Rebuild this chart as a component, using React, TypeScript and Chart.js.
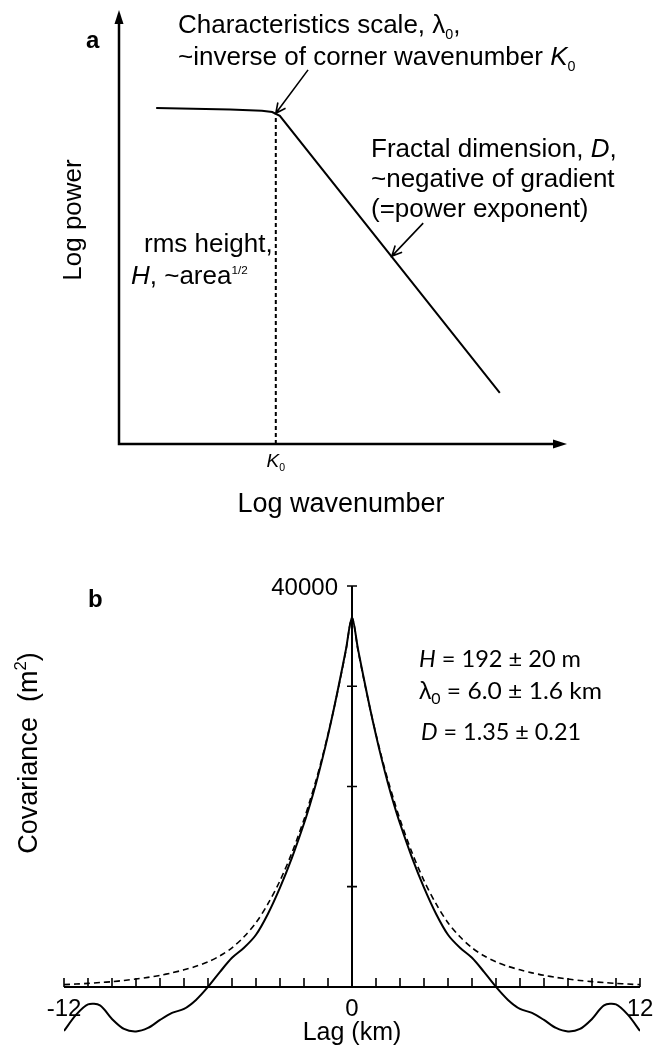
import React, { useEffect, useRef } from "react";
import { Chart, registerables } from "chart.js";

Chart.register(...registerables);

// ---------- Panel a: schematic power spectrum (arbitrary log units) ----------
const logWavenumber = [0.83, 2.48, 3.19, 3.42, 3.59, 8.5];
const logPower = [7.74, 7.71, 7.68, 7.65, 7.56, 1.18];
const cornerK0 = 3.5;
const cornerPower = 7.56;

// ---------- Panel b: covariance vs lag (positive lags; function is symmetric) ----------
const lagKm = [0, 0.25, 0.5, 0.75, 1, 1.25, 1.5, 1.75, 2, 2.5, 3, 3.5, 4, 4.5, 5, 5.5, 6, 6.5, 7, 7.5, 8, 8.5, 9, 9.5, 10, 10.5, 11, 11.5, 12];
const covObserved = [36864, 33700, 30700, 27800, 25100, 22600, 20300, 18200, 16300, 12900, 9900, 7300, 5200, 3900, 2900, 1500, 0, -1300, -2200, -2600, -3300, -4100, -4450, -4200, -3200, -1850, -1750, -2800, -4400];
const covModel = [36864, 33600, 30600, 27800, 25200, 22800, 20600, 18600, 16700, 13400, 10600, 8300, 6400, 5000, 3900, 3100, 2500, 2050, 1700, 1400, 1150, 950, 780, 640, 520, 430, 350, 280, 220];
const yTicks = [10000, 20000, 30000, 40000];
const xTickLabels = [-12, 0, 12];

type Seg = { t: string; it?: boolean; b?: boolean; sub?: boolean; sup?: boolean; sz?: number; fam?: string };

function drawRich(
  ctx: CanvasRenderingContext2D,
  segs: Seg[],
  x: number,
  y: number,
  size: number,
  family: string,
  align: "left" | "center" | "right" = "left",
  fitWidth?: number
) {
  const segSize = (s: Seg) => (s.sz ? size * s.sz : s.sub || s.sup ? size * 0.55 : size);
  const fontFor = (s: Seg) =>
    `${s.it ? "italic " : ""}${s.b ? "bold " : ""}${segSize(s).toFixed(1)}px ${s.fam || family}`;
  const widths: number[] = [];
  let total = 0;
  for (const s of segs) {
    ctx.font = fontFor(s);
    const w = ctx.measureText(s.t).width;
    widths.push(w);
    total += w;
  }
  const sx = fitWidth ? fitWidth / total : 1;
  const start = align === "center" ? x - (total * sx) / 2 : align === "right" ? x - total * sx : x;
  ctx.save();
  ctx.translate(start, y);
  ctx.scale(sx, 1);
  ctx.textAlign = "left";
  ctx.textBaseline = "alphabetic";
  ctx.fillStyle = "#000";
  let cx = 0;
  segs.forEach((s, i) => {
    ctx.font = fontFor(s);
    const dy = s.sub ? size * 0.22 : s.sup ? -size * 0.4 : 0;
    ctx.fillText(s.t, cx, dy);
    cx += widths[i];
  });
  ctx.restore();
}

function drawRotated(ctx: CanvasRenderingContext2D, segs: Seg[], x: number, y: number, size: number, family: string) {
  ctx.save();
  ctx.translate(x, y);
  ctx.rotate(-Math.PI / 2);
  drawRich(ctx, segs, 0, 0, size, family, "center");
  ctx.restore();
}

function openArrow(ctx: CanvasRenderingContext2D, x1: number, y1: number, x2: number, y2: number) {
  const ang = Math.atan2(y2 - y1, x2 - x1);
  const hl = 11;
  const spread = 0.45;
  ctx.save();
  ctx.strokeStyle = "#000";
  ctx.lineWidth = 1.6;
  ctx.beginPath();
  ctx.moveTo(x1, y1);
  ctx.lineTo(x2, y2);
  ctx.moveTo(x2 - hl * Math.cos(ang - spread), y2 - hl * Math.sin(ang - spread));
  ctx.lineTo(x2, y2);
  ctx.lineTo(x2 - hl * Math.cos(ang + spread), y2 - hl * Math.sin(ang + spread));
  ctx.stroke();
  ctx.restore();
}

const SANS = "'Liberation Sans', Arial, sans-serif";
const CAL = "Lato, 'Liberation Sans', sans-serif";

const panelAPlugin = {
  id: "panelA",
  afterDatasetsDraw(chart: any) {
    const ctx: CanvasRenderingContext2D = chart.ctx;
    const { left, right, top, bottom } = chart.chartArea;
    const xs = chart.scales.x;
    const ys = chart.scales.y;
    ctx.save();
    // axes
    ctx.strokeStyle = "#000";
    ctx.fillStyle = "#000";
    ctx.lineWidth = 2.5;
    ctx.beginPath();
    ctx.moveTo(left, top + 10);
    ctx.lineTo(left, bottom);
    ctx.lineTo(right - 10, bottom);
    ctx.stroke();
    // arrowheads
    ctx.beginPath();
    ctx.moveTo(left, top);
    ctx.lineTo(left - 4.5, top + 14);
    ctx.lineTo(left + 4.5, top + 14);
    ctx.closePath();
    ctx.fill();
    ctx.beginPath();
    ctx.moveTo(right, bottom);
    ctx.lineTo(right - 14, bottom - 4.5);
    ctx.lineTo(right - 14, bottom + 4.5);
    ctx.closePath();
    ctx.fill();
    ctx.restore();

    // annotation arrows (data units)
    openArrow(ctx, xs.getPixelForValue(4.22), ys.getPixelForValue(8.62), xs.getPixelForValue(cornerK0), ys.getPixelForValue(7.62));
    openArrow(ctx, xs.getPixelForValue(6.79), ys.getPixelForValue(5.09), xs.getPixelForValue(6.09), ys.getPixelForValue(4.33));

    // texts
    drawRich(ctx, [{ t: "a", b: true }], 86, 48, 24, SANS);
    drawRich(ctx, [{ t: "Characteristics scale, λ" }, { t: "0", sub: true }, { t: "," }], 178, 33, 26, SANS);
    drawRich(ctx, [{ t: "~inverse of corner wavenumber " }, { t: "K", it: true }, { t: "0", sub: true }], 178, 65, 26, SANS);
    drawRich(ctx, [{ t: "Fractal dimension, " }, { t: "D", it: true }, { t: "," }], 371, 157, 26, SANS);
    drawRich(ctx, [{ t: "~negative of gradient" }], 371, 187, 26, SANS);
    drawRich(ctx, [{ t: "(=power exponent)" }], 371, 217, 26, SANS);
    drawRich(ctx, [{ t: "rms height," }], 144, 252, 26, SANS);
    drawRich(ctx, [{ t: "H", it: true }, { t: ", ~area" }, { t: "1/2", sup: true, sz: 0.45 }], 131, 284, 26, SANS);
    drawRich(ctx, [{ t: "K", it: true }, { t: "0", sub: true }], xs.getPixelForValue(cornerK0), 467, 19, SANS, "center");
    drawRotated(ctx, [{ t: "Log power" }], 81, 220, 26, SANS);
    drawRich(ctx, [{ t: "Log wavenumber" }], (left + right) / 2 - 2, 512, 27, SANS, "center");
  },
};

const panelBPlugin = {
  id: "panelB",
  afterDatasetsDraw(chart: any) {
    const ctx: CanvasRenderingContext2D = chart.ctx;
    const xs = chart.scales.x;
    const ys = chart.scales.y;
    const x0 = xs.getPixelForValue(0);
    const y0 = ys.getPixelForValue(0);
    const xl = xs.getPixelForValue(-12);
    const xr = xs.getPixelForValue(12);
    ctx.save();
    ctx.strokeStyle = "#000";
    ctx.lineWidth = 2;
    ctx.beginPath();
    ctx.moveTo(xl, y0);
    ctx.lineTo(xr, y0);
    ctx.moveTo(x0, y0);
    ctx.lineTo(x0, ys.getPixelForValue(40000));
    ctx.stroke();
    ctx.lineWidth = 1.6;
    ctx.beginPath();
    for (let k = -12; k <= 12; k++) {
      const px = xs.getPixelForValue(k);
      ctx.moveTo(px, y0);
      ctx.lineTo(px, y0 - 9);
    }
    for (const t of yTicks) {
      const py = ys.getPixelForValue(t);
      ctx.moveTo(x0 - 5, py);
      ctx.lineTo(x0 + 5, py);
    }
    ctx.stroke();
    ctx.restore();

    for (const v of xTickLabels) {
      drawRich(ctx, [{ t: String(v) }], xs.getPixelForValue(v), 486, 24, SANS, "center");
    }
    drawRich(ctx, [{ t: "40000" }], x0 - 14, ys.getPixelForValue(40000) + 9, 24, SANS, "right");
    drawRich(ctx, [{ t: "Lag (km)" }], x0, 510, 25, SANS, "center");
    drawRotated(ctx, [{ t: "Covariance  (m" }, { t: "2", sup: true, sz: 0.62 }, { t: ")" }], 37, 223, 27, SANS);
    drawRich(ctx, [{ t: "b", b: true }], 88, 77, 24, SANS);

    drawRich(ctx, [{ t: "H", it: true }, { t: " = 192 ± 20 m" }], 419, 137, 24, CAL, "left", 162);
    drawRich(ctx, [{ t: "λ", fam: SANS }, { t: "0", sub: true, sz: 0.65 }, { t: " = 6.0 ± 1.6 km" }], 419, 169, 24, CAL, "left", 183);
    drawRich(ctx, [{ t: "D", it: true }, { t: " = 1.35 ± 0.21" }], 421, 210, 24, CAL, "left", 160);
  },
};

function symmetric(lags: number[], vals: number[]) {
  const pts: { x: number; y: number }[] = [];
  for (let i = lags.length - 1; i >= 1; i--) pts.push({ x: -lags[i], y: vals[i] });
  for (let i = 0; i < lags.length; i++) pts.push({ x: lags[i], y: vals[i] });
  return pts;
}

export default function App() {
  const refA = useRef<HTMLCanvasElement>(null);
  const refB = useRef<HTMLCanvasElement>(null);

  useEffect(() => {
    const chartA = new Chart(refA.current as HTMLCanvasElement, {
      type: "line",
      data: {
        datasets: [
          {
            data: logWavenumber.map((x, i) => ({ x, y: logPower[i] })),
            borderColor: "#000",
            borderWidth: 2,
            pointRadius: 0,
            tension: 0,
            fill: false,
          },
          {
            data: [
              { x: cornerK0, y: 0 },
              { x: cornerK0, y: cornerPower },
            ],
            borderColor: "#000",
            borderWidth: 2,
            borderDash: [4, 3],
            pointRadius: 0,
            fill: false,
          },
        ],
      },
      options: {
        animation: false,
        responsive: false,
        maintainAspectRatio: false,
        events: [],
        layout: { padding: { left: 119, right: 86, top: 10, bottom: 86 } },
        plugins: { legend: { display: false }, tooltip: { enabled: false } },
        scales: {
          x: { type: "linear", min: 0, max: 10, display: false },
          y: { type: "linear", min: 0, max: 10, display: false },
        },
      },
      plugins: [panelAPlugin],
    });

    const chartB = new Chart(refB.current as HTMLCanvasElement, {
      type: "line",
      data: {
        datasets: [
          {
            data: symmetric(lagKm, covModel),
            borderColor: "#000",
            borderWidth: 1.6,
            borderDash: [6, 4],
            pointRadius: 0,
            tension: 0.3,
            fill: false,
          },
          {
            data: symmetric(lagKm, covObserved),
            borderColor: "#000",
            borderWidth: 2,
            pointRadius: 0,
            tension: 0.3,
            fill: false,
          },
        ],
      },
      options: {
        animation: false,
        responsive: false,
        maintainAspectRatio: false,
        events: [],
        layout: { padding: { left: 64, right: 13, top: 56, bottom: 10 } },
        plugins: { legend: { display: false }, tooltip: { enabled: false } },
        scales: {
          x: { type: "linear", min: -12, max: 12, display: false },
          y: { type: "linear", min: -5500, max: 40000, display: false },
        },
      },
      plugins: [panelBPlugin],
    });

    return () => {
      chartA.destroy();
      chartB.destroy();
    };
  }, []);

  return (
    <div style={{ position: "absolute", left: 0, top: 0, width: 653, height: 1052, background: "#fff" }}>
      <canvas ref={refA} width={653} height={530} style={{ position: "absolute", left: 0, top: 0, width: 653, height: 530 }} />
      <canvas ref={refB} width={653} height={522} style={{ position: "absolute", left: 0, top: 530, width: 653, height: 522 }} />
    </div>
  );
}
